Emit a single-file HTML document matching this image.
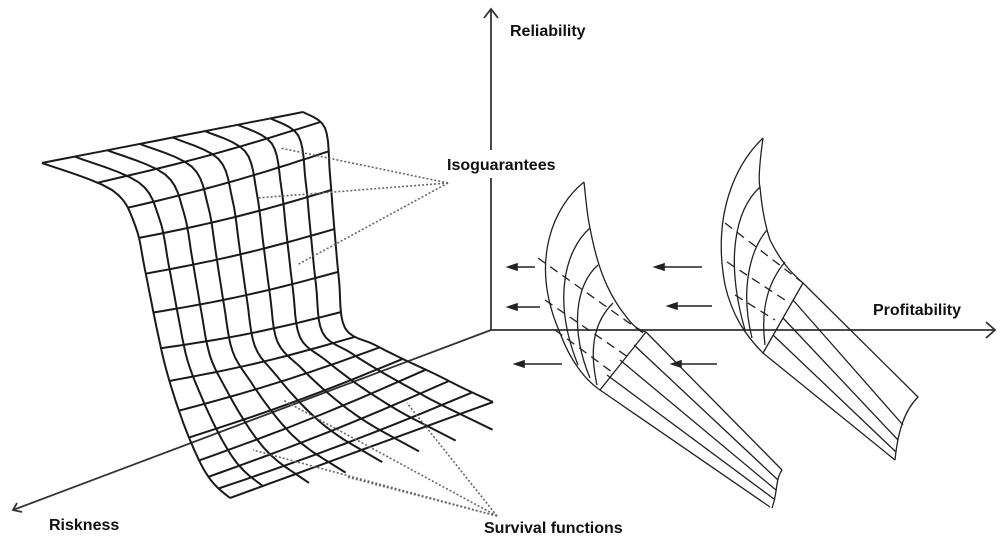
<!DOCTYPE html>
<html><head><meta charset="utf-8"><style>
html,body{margin:0;padding:0;background:#fff;}
svg{display:block}
text{font-family:"Liberation Sans",sans-serif;font-weight:bold;font-size:16px;fill:#111}
</style></head><body>
<svg id="s" width="1000" height="548" viewBox="0 0 1000 548" xmlns="http://www.w3.org/2000/svg">
<g stroke="#333" stroke-width="1.8" fill="none">
<line x1="491" y1="9" x2="491" y2="150"/>
<line x1="491" y1="178" x2="491" y2="330"/>
<path d="M484,18 L491,9 L498,18"/>
<line x1="491" y1="330" x2="995" y2="330"/>
<path d="M986,322 L995,330 L986,338"/>
<line x1="491" y1="330" x2="13" y2="510"/>
<path d="M17,503 L13,510 L22,512"/>
</g>
<g id="mesh" stroke="#1a1a1a" stroke-width="2" fill="none"></g>
<g stroke="#666" stroke-width="1.6" stroke-dasharray="2,2" fill="none">
<line x1="448" y1="183" x2="280" y2="148"/>
<line x1="448" y1="183" x2="257" y2="198"/>
<line x1="448" y1="183" x2="297" y2="265"/>
<line x1="497" y1="516" x2="283" y2="400"/>
<line x1="497" y1="516" x2="253" y2="450"/>
<line x1="497" y1="516" x2="347" y2="477"/>
<line x1="497" y1="516" x2="407" y2="403"/>
</g>
<g stroke="#222" stroke-width="1.3" fill="none">
<path d="M584,182 C555,205 528,260 560,333 C570,360 585,380 600,390 L770,507"/>
<path d="M584,182 C586,200 587,215 590,228 C596,260 605,290 625,315 C632,325 638,330 646,332"/>
<path d="M646,332 L600,390"/>
<path d="M646,332 L782,470 C775,480 778,492 772,508"/>
<path d="M634,345 L778,480"/><path d="M620,360 L776,490"/><path d="M607,375 L774,499"/>
<path d="M590,228 C565,250 552,300 578,365"/>
<path d="M598,265 C575,285 570,330 590,378"/>
<path d="M613,303 C596,320 588,345 597,385"/>
<path d="M538,258 L646,335" stroke-dasharray="9,6"/>
<path d="M545,300 L628,357" stroke-dasharray="9,6"/>
<path d="M555,330 L612,372" stroke-dasharray="9,6"/>
<path d="M763,138 C735,165 712,215 725,285 C732,315 745,335 763,353 L895,460"/>
<path d="M763,138 C760,160 758,180 760,187 C762,210 765,225 770,240 C780,260 790,272 803,283"/>
<path d="M803,283 L763,353"/>
<path d="M803,283 L918,397 C905,410 898,430 895,460"/>
<path d="M793,300 L903,425"/><path d="M783,318 L898,440"/><path d="M773,335 L896,452"/>
<path d="M760,187 C735,210 725,260 745,330"/>
<path d="M767,230 C750,250 740,290 752,338"/>
<path d="M785,262 C770,280 760,305 765,345"/>
<path d="M725,223 L803,283" stroke-dasharray="9,6"/>
<path d="M727,262 L785,300" stroke-dasharray="9,6"/>
<path d="M735,295 L775,320" stroke-dasharray="9,6"/>
</g>
<g stroke="#222" stroke-width="1.6" fill="#222">
<line x1="515" y1="267" x2="535" y2="267"/><path d="M508,267 L517,264 L517,270Z"/>
<line x1="662" y1="267" x2="702" y2="267"/><path d="M655,267 L664,264 L664,270Z"/>
<line x1="515" y1="307" x2="540" y2="307"/><path d="M508,307 L517,304 L517,310Z"/>
<line x1="675" y1="306" x2="712" y2="306"/><path d="M668,306 L677,303 L677,309Z"/>
<line x1="522" y1="364" x2="562" y2="364"/><path d="M515,364 L524,361 L524,367Z"/>
<line x1="679" y1="364" x2="717" y2="364"/><path d="M672,364 L681,361 L681,367Z"/>
</g>
<text x="510" y="36">Reliability</text>
<text x="447" y="170">Isoguarantees</text>
<text x="873" y="315">Profitability</text>
<text x="49" y="530">Riskness</text>
<text x="484" y="533">Survival functions</text>
</svg>
<script>
(function(){
var L=[[42,163],[112,190],[135,225],[145,270],[155,320],[165,365],[177,405],[190,440],[203,468],[215,485],[230,498]];
var R=[[303,112],[325,128],[330,175],[334,225],[339,280],[345,328],[375,345],[405,360],[435,374],[465,389],[493,402]];
function cr(P,t){var n=P.length-1,f=t*n,i=Math.min(Math.floor(f),n-1),u=f-i;
var p0=P[Math.max(i-1,0)],p1=P[i],p2=P[i+1],p3=P[Math.min(i+2,n)];
function c(k){return 0.5*((2*p1[k])+(-p0[k]+p2[k])*u+(2*p0[k]-5*p1[k]+4*p2[k]-p3[k])*u*u+(-p0[k]+3*p1[k]-3*p2[k]+p3[k])*u*u*u);}
return [c(0),c(1)];}
function pt(s,t){var a=cr(L,t),b=cr(R,t);return [a[0]+(b[0]-a[0])*s,a[1]+(b[1]-a[1])*s];}
var g=document.getElementById('mesh'),h='';
var NS=8,NT=13,i,j,d;
for(i=0;i<=NS;i++){var s=i/NS;d='';for(j=0;j<=60;j++){var p=pt(s,j/60);d+=(j?'L':'M')+p[0].toFixed(1)+','+p[1].toFixed(1);}
if(i>=2&&i<NS){var e=pt(s,1),q=pt(s,0.96);var dx=e[0]-q[0],dy=e[1]-q[1],m=Math.sqrt(dx*dx+dy*dy);var len=8+i*4;d+='L'+(e[0]+dx/m*len).toFixed(1)+','+(e[1]+dy/m*len).toFixed(1);}
h+='<path d="'+d+'"/>';}
for(j=0;j<=NT;j++){var t=j/NT;d='';for(i=0;i<=20;i++){var p=pt(i/20,t);var sag=Math.sin(Math.PI*i/20)*3*(t>0&&t<1?1:0);d+=(i?'L':'M')+p[0].toFixed(1)+','+(p[1]+sag).toFixed(1);}
h+='<path d="'+d+'"/>';}
g.innerHTML=h;
})();
</script>
</body></html>
